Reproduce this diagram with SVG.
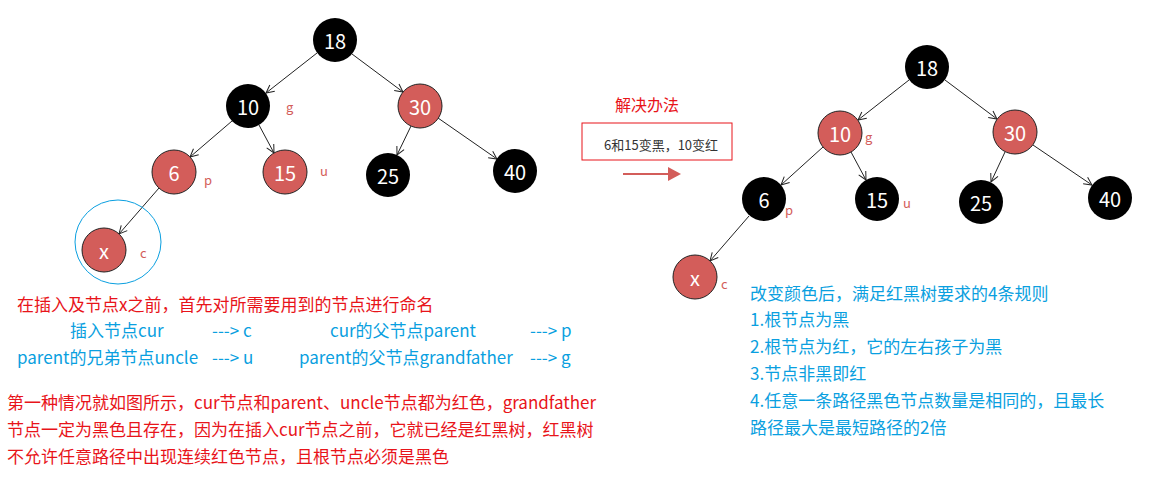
<svg xmlns="http://www.w3.org/2000/svg" width="1158" height="485" viewBox="0 0 1158 485">
<style>
text{font-family:"Noto Sans CJK SC","Noto Sans",sans-serif}
.b{fill:#000}
.r{fill:#d35d5a;stroke:#222;stroke-width:1}
.n{fill:#fff;font-size:20px;text-anchor:middle;dominant-baseline:central}
.l{fill:#d35d5a;font-size:13px}
.red{fill:#e8141a;font-size:17px}
.blue{fill:#0a9fe0;font-size:17px}
#edges line{stroke:#222;stroke-width:1;marker-end:url(#a)}
</style>
<defs><marker id="a" markerWidth="10" markerHeight="10" refX="9" refY="5" orient="auto" markerUnits="userSpaceOnUse"><path d="M1,1 L9,5 L1,9" fill="none" stroke="#222"/></marker></defs>
<rect width="1158" height="485" fill="#fff"/>
<g id="edges">
<line x1="317" y1="53" x2="266" y2="93"/><line x1="352" y1="54" x2="403" y2="92"/>
<line x1="232" y1="121" x2="190" y2="157"/><line x1="259" y1="125" x2="274" y2="153"/>
<line x1="411" y1="126" x2="397" y2="155"/><line x1="438" y1="118" x2="497" y2="159"/>
<line x1="159" y1="188" x2="119" y2="234"/>
<line x1="909" y1="80" x2="858" y2="120"/><line x1="945" y1="80" x2="997" y2="119"/>
<line x1="823" y1="147" x2="781" y2="185"/><line x1="851" y1="152" x2="866" y2="180"/>
<line x1="1005" y1="152" x2="991" y2="182"/><line x1="1033" y1="145" x2="1092" y2="185"/>
<line x1="749" y1="216" x2="710" y2="261"/>
</g>
<ellipse cx="118" cy="242" rx="43" ry="42" fill="none" stroke="#0a9fe0" stroke-width="1"/>
<g id="L18"><circle cx="335" cy="40" r="22" class="b"/><text x="335" y="40" class="n">18</text></g>
<g id="L10"><circle cx="248" cy="106" r="22" class="b"/><text x="248" y="106" class="n">10</text><text x="286" y="112" class="l">g</text></g>
<g id="L30"><circle cx="420" cy="106" r="22" class="r"/><text x="420" y="106" class="n">30</text></g>
<g id="L6"><circle cx="174" cy="172" r="22" class="r"/><text x="174" y="172" class="n">6</text><text x="204" y="185" class="l">p</text></g>
<g id="L15"><circle cx="285" cy="172" r="22" class="r"/><text x="285" y="172" class="n">15</text><text x="320" y="176" class="l">u</text></g>
<g id="L25"><circle cx="388" cy="175" r="22" class="b"/><text x="388" y="175" class="n">25</text></g>
<g id="L40"><circle cx="515" cy="171" r="22" class="b"/><text x="515" y="171" class="n">40</text></g>
<g id="Lx"><circle cx="104" cy="250" r="22" class="r"/><text x="104" y="250" class="n">x</text><text x="140" y="258" class="l">c</text></g>
<g id="R18"><circle cx="927" cy="67" r="22" class="b"/><text x="927" y="67" class="n">18</text></g>
<g id="R10"><circle cx="840" cy="133" r="22" class="r"/><text x="840" y="133" class="n">10</text><text x="865" y="142" class="l">g</text></g>
<g id="R30"><circle cx="1015" cy="132" r="22" class="r"/><text x="1015" y="132" class="n">30</text></g>
<g id="R6"><circle cx="764" cy="199" r="22" class="b"/><text x="764" y="199" class="n">6</text><text x="785" y="215" class="l">p</text></g>
<g id="R15"><circle cx="877" cy="199" r="22" class="b"/><text x="877" y="199" class="n">15</text><text x="903" y="208" class="l">u</text></g>
<g id="R25"><circle cx="981" cy="202" r="22" class="b"/><text x="981" y="202" class="n">25</text></g>
<g id="R40"><circle cx="1110" cy="198" r="22" class="b"/><text x="1110" y="198" class="n">40</text></g>
<g id="Rx"><circle cx="695" cy="277" r="22" class="r"/><text x="695" y="277" class="n">x</text><text x="721" y="289" class="l">c</text></g>
<g id="solution">
<text x="615" y="111" fill="#e8141a" font-size="16">解决办法</text>
<rect x="582" y="123" width="150" height="37" fill="#fff" stroke="#e8141a" stroke-width="1"/>
<text x="604" y="150" font-size="13" fill="#333">6和15变黑，10变红</text>
<line x1="623" y1="174" x2="670" y2="174" stroke="#d35d5a" stroke-width="2"/>
<path d="M668,167 L681,174 L668,181 Z" fill="#d35d5a"/>
</g>
<g id="notes">
<text x="17" y="311" class="red">在插入及节点x之前，首先对所需要用到的节点进行命名</text>
<text x="70" y="337" class="blue">插入节点cur</text><text x="212" y="337" class="blue">---&gt;   c</text>
<text x="330" y="337" class="blue">cur的父节点parent</text><text x="530" y="337" class="blue">---&gt;    p</text>
<text x="17" y="364" class="blue">parent的兄弟节点uncle</text><text x="212" y="364" class="blue">---&gt;   u</text>
<text x="299" y="364" class="blue">parent的父节点grandfather</text><text x="530" y="364" class="blue">---&gt;    g</text>
<text x="7" y="409" class="red">第一种情况就如图所示，cur节点和parent、uncle节点都为红色，grandfather</text>
<text x="7" y="436" class="red">节点一定为黑色且存在，因为在插入cur节点之前，它就已经是红黑树，红黑树</text>
<text x="7" y="463" class="red">不允许任意路径中出现连续红色节点，且根节点必须是黑色</text>
<text x="750" y="300" class="blue">改变颜色后，满足红黑树要求的4条规则</text>
<text x="750" y="326" class="blue">1.根节点为黑</text>
<text x="750" y="353" class="blue">2.根节点为红，它的左右孩子为黑</text>
<text x="750" y="380" class="blue">3.节点非黑即红</text>
<text x="750" y="407" class="blue">4.任意一条路径黑色节点数量是相同的，且最长</text>
<text x="750" y="434" class="blue">路径最大是最短路径的2倍</text>
</g>
</svg>
